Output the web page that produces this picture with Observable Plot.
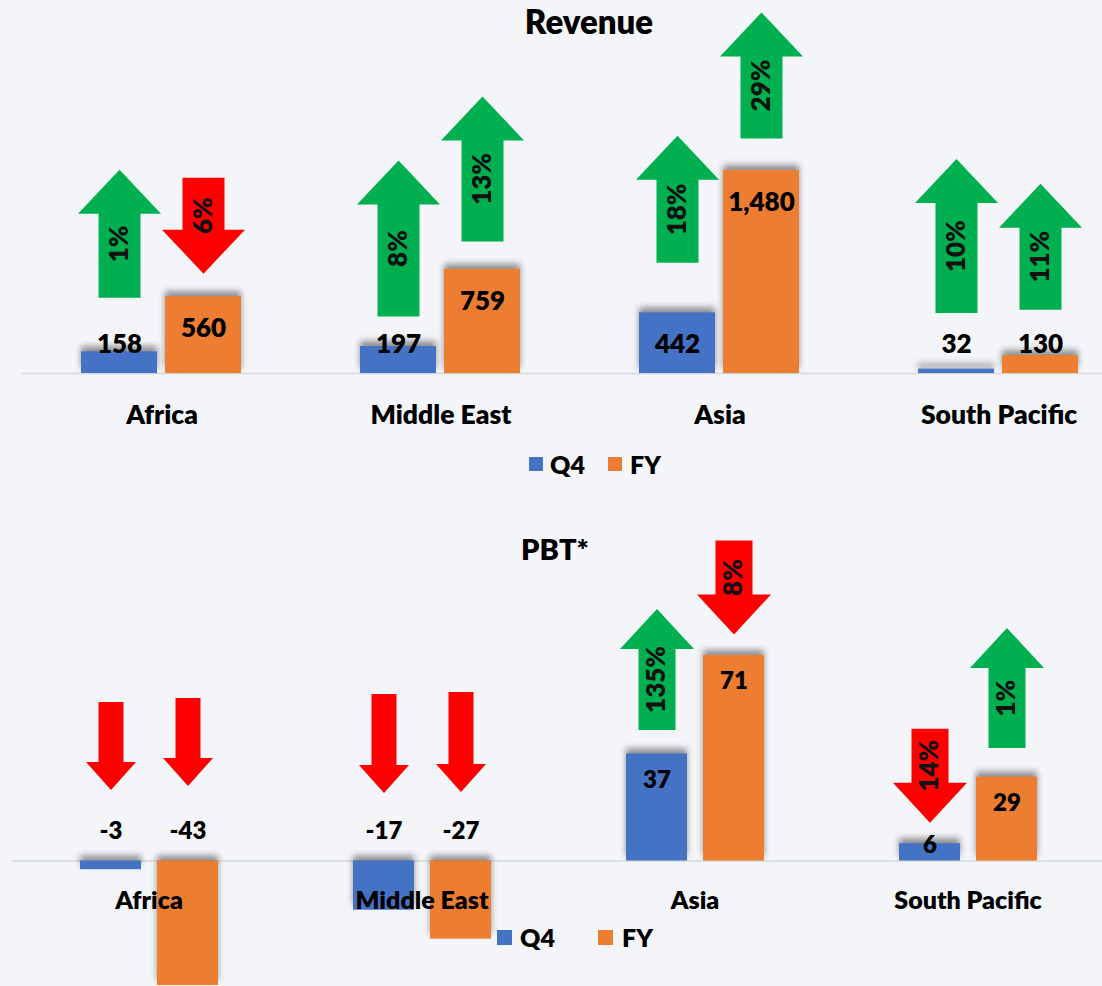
<!DOCTYPE html>
<html>
<head>
<meta charset="utf-8">
<script src="https://cdn.jsdelivr.net/npm/d3@7"></script>
<script src="https://cdn.jsdelivr.net/npm/@observablehq/plot@0.6"></script>
<style>
  html, body { margin: 0; padding: 0; background: #f3f5f8; overflow: hidden; }
  #page { position: relative; width: 1102px; height: 986px; font-family: Lato, "Open Sans", sans-serif; font-weight: 800; color: #000; }
  .title { position: absolute; transform: translate(-50%, -50%); white-space: nowrap; line-height: 1; }
  .lg-sw { position: absolute; }
  .lg-tx { position: absolute; transform: translateY(-50%); line-height: 1; font-size: 25px; white-space: nowrap; }
  svg g[aria-label="bar"] rect { filter: drop-shadow(0 -5px 3px rgba(0,0,0,0.42)); }
</style>
</head>
<body>
<div id="page"></div>
<script>
// ---------- data ----------
const regions = ["Africa", "Middle East", "Asia", "South Pacific"];
const series = ["Q4", "FY"];

const revenueQ4 = [158, 197, 442, 32];
const revenueFY = [560, 759, 1480, 130];
const revenueChangeQ4 = [1, 8, 18, 10];     // % change, sign = direction
const revenueChangeFY = [-6, 13, 29, 11];

const pbtQ4 = [-3, -17, 37, 6];
const pbtFY = [-43, -27, 71, 29];
const pbtChangeQ4 = [null, null, 135, -14]; // null = no figure shown
const pbtChangeFY = [null, null, -8, 1];

// ---------- styles / layout ----------
const BLUE = "#4472c4", ORANGE = "#ed7d31", GREEN = "#00b050", RED = "#ff0000";
const WEIGHT = 800;
// arrow placement: gap above bar top and arrow length (px), [Q4 row, FY row]
const revArrowGap = [[54, 30, 50, 56], [23, 28, 32, 46]];
const revArrowLen = [[128, 156, 127, 154], [96, 145, 126, 126]];
const pbtArrowGap = [[71, 68, 24, 21], [75, 69, 21, 29]];
const pbtArrowLen = [[88, 99, 121, 94], [88, 100, 94, 120]];

const page = document.getElementById("page");

function rowsFor(q4, fy, cq4, cfy) {
  return regions.flatMap((region, i) => [
    {region, series: series[0], value: q4[i], change: cq4[i], i, j: 0},
    {region, series: series[1], value: fy[i], change: cfy[i], i, j: 1}
  ]);
}
function isUp(d) {
  return d.change == null ? d.value >= 0 : d.change >= 0;
}
function arrowSymbol(gap, len, {hw, sw, hh}, up) {
  return {
    draw(ctx) {
      const b = -gap, t = -gap - len;
      if (up) {
        ctx.moveTo(0, t);
        ctx.lineTo(hw / 2, t + hh);
        ctx.lineTo(sw / 2, t + hh);
        ctx.lineTo(sw / 2, b);
        ctx.lineTo(-sw / 2, b);
        ctx.lineTo(-sw / 2, t + hh);
        ctx.lineTo(-hw / 2, t + hh);
      } else {
        ctx.moveTo(-sw / 2, t);
        ctx.lineTo(sw / 2, t);
        ctx.lineTo(sw / 2, b - hh);
        ctx.lineTo(hw / 2, b - hh);
        ctx.lineTo(0, b);
        ctx.lineTo(-hw / 2, b - hh);
        ctx.lineTo(-sw / 2, b - hh);
      }
      ctx.closePath();
    }
  };
}

function panel(cfg) {
  const rows = cfg.rows;
  const pos = {fx: "region", x: "series"};
  const arrowMarks = rows.flatMap(d => {
    const up = isUp(d);
    const gap = cfg.gap[d.j][d.i], len = cfg.len[d.j][d.i];
    const shape = d.change == null ? cfg.blankArrow : cfg.arrow;
    const anchorY = r => Math.max(r.value, 0);
    const m = [Plot.dot([d], {...pos, y: anchorY, r: 10,
      symbol: arrowSymbol(gap, len, shape, up), fill: up ? GREEN : RED, stroke: "none"})];
    if (d.change != null) {
      m.push(Plot.text([d], {...pos, y: anchorY, text: r => Math.abs(r.change) + "%",
        rotate: -90, dy: -(gap + len / 2) + (up ? 10 : -10),
        fontSize: cfg.pctSize, fontWeight: WEIGHT, fill: "#111"}));
    }
    return m;
  });
  const svg = Plot.plot({
    width: 1102,
    height: 986,
    margin: 0,
    style: {background: "transparent", fontFamily: "Lato, sans-serif", overflow: "hidden"},
    fx: {domain: regions, range: cfg.fxRange, padding: 0, axis: null},
    x: {domain: series, paddingInner: cfg.padIn, paddingOuter: cfg.padOut, axis: null},
    y: {domain: cfg.yDomain, range: cfg.yRange, axis: null},
    color: {domain: series, range: [BLUE, ORANGE]},
    marks: [
      Plot.ruleY([0], {stroke: "#d6d8db", strokeWidth: 1.5}),
      Plot.barY(rows, {...pos, y: "value", fill: "series"}),
      ...arrowMarks,
      ...cfg.labelMarks(rows, pos),
      Plot.text(regions, {fx: d => d, y: () => 0, text: d => d, dy: cfg.regionDy,
        fontSize: cfg.regionSize, fontWeight: WEIGHT, fill: "#000"})
    ]
  });
  svg.style.position = "absolute";
  svg.style.left = "0px";
  svg.style.top = "0px";
  svg.style.maxWidth = "none";
  page.appendChild(svg);
}

const fmt = v => d3.format(",")(v).replace("\u2212", "-");

// Revenue panel
const revMax = 1480, revTopPx = 170, revBasePx = 373;
panel({
  rows: rowsFor(revenueQ4, revenueFY, revenueChangeQ4, revenueChangeFY),
  fxRange: [21.5, 1137.5], padIn: 0.0952, padOut: 0.7083,
  yDomain: [0, revMax], yRange: [revBasePx, revTopPx],
  gap: revArrowGap, len: revArrowLen,
  arrow: {hw: 83, sw: 42, hh: 44}, blankArrow: {hw: 83, sw: 42, hh: 44},
  pctSize: 26, regionSize: 26.5, regionDy: 42,
  labelMarks: (rows, pos) => {
    const minV = 61 * revMax / (revBasePx - revTopPx);
    return [Plot.text(rows, {...pos, y: d => Math.max(d.value, minV), text: d => fmt(d.value),
      dy: 32, fontSize: 26, fontWeight: WEIGHT, fill: "#000"})];
  }
});

// PBT panel
const pbtMax = 71, pbtTopPx = 655, pbtBasePx = 860.5;
panel({
  rows: rowsFor(pbtQ4, pbtFY, pbtChangeQ4, pbtChangeFY),
  fxRange: [11.5, 1103.5], padIn: 0.2078, padOut: 0.8766,
  yDomain: [0, pbtMax], yRange: [pbtBasePx, pbtTopPx],
  gap: pbtArrowGap, len: pbtArrowLen,
  arrow: {hw: 74, sw: 37, hh: 40}, blankArrow: {hw: 50, sw: 25, hh: 28},
  pctSize: 26, regionSize: 25, regionDy: 40,
  labelMarks: (rows, pos) => {
    const minV = 41.5 * pbtMax / (pbtBasePx - pbtTopPx);
    return [
      Plot.text(rows.filter(d => d.value >= 0), {...pos, y: d => Math.max(d.value, minV),
        text: d => fmt(d.value), dy: 26, fontSize: 24, fontWeight: WEIGHT, fill: "#000"}),
      Plot.text(rows.filter(d => d.value < 0), {...pos, y: () => 0,
        text: d => fmt(d.value), dy: -30, fontSize: 24, fontWeight: WEIGHT, fill: "#000"})
    ];
  }
});

// Titles
function addTitle(text, x, y, size) {
  const t = document.createElement("div");
  t.className = "title";
  t.textContent = text;
  t.style.left = x + "px";
  t.style.top = y + "px";
  t.style.fontSize = size + "px";
  page.appendChild(t);
}
addTitle("Revenue", 589, 21, 33);
addTitle("PBT*", 555, 548, 29);

// Legends
function addLegend(items) {
  const colors = [BLUE, ORANGE];
  series.forEach((s, k) => {
    const it = items[k];
    const sw = document.createElement("div");
    sw.className = "lg-sw";
    sw.style.left = it.sx + "px";
    sw.style.top = (it.cy - it.size / 2) + "px";
    sw.style.width = it.size + "px";
    sw.style.height = it.size + "px";
    sw.style.background = colors[k];
    page.appendChild(sw);
    const tx = document.createElement("div");
    tx.className = "lg-tx";
    tx.textContent = s;
    tx.style.left = it.tx + "px";
    tx.style.top = it.cy + "px";
    page.appendChild(tx);
  });
}
addLegend([{sx: 529, tx: 550, cy: 464, size: 14}, {sx: 608, tx: 630, cy: 464, size: 14}]);
addLegend([{sx: 497, tx: 520, cy: 937, size: 15}, {sx: 598, tx: 622, cy: 937, size: 15}]);
</script>
</body>
</html>
